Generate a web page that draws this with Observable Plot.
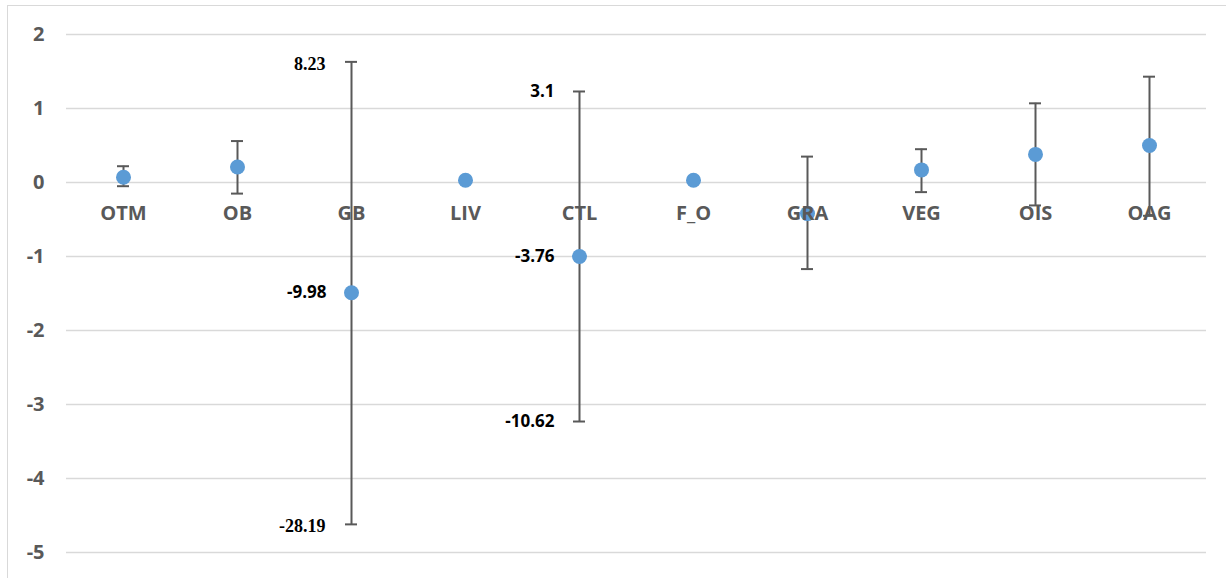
<!DOCTYPE html>
<html>
<head>
<meta charset="utf-8">
<script src="https://cdn.jsdelivr.net/npm/d3@7"></script>
<script src="https://cdn.jsdelivr.net/npm/@observablehq/plot@0.6"></script>
<style>
  html, body { margin: 0; padding: 0; background: #fff; overflow: hidden; }
  #wrap { position: relative; width: 1226px; height: 578px; }
  #border { position: absolute; left: 7px; top: 5px; right: -3px; bottom: -3px; border: 1.5px solid #d9d9d9; pointer-events: none; }
  .yax text { font-weight: 700; }
</style>
</head>
<body>
<div id="wrap"><div id="chart"></div><div id="border"></div></div>
<script>
const categories = ["OTM", "OB", "GB", "LIV", "CTL", "F_O", "GRA", "VEG", "OIS", "OAG"];
const means = [0.07, 0.21, -1.49, 0.03, -1.0, 0.03, -0.42, 0.17, 0.38, 0.5];
const upper = [0.22, 0.56, 1.63, null, 1.23, null, 0.35, 0.45, 1.07, 1.43];
const lower = [-0.05, -0.15, -4.62, null, -3.23, null, -1.17, -0.13, -0.31, -0.45];
const yTicks = [-5, -4, -3, -2, -1, 0, 1, 2];

// value annotations: category, which point of the bar, text
const annCategory = ["GB", "GB", "GB", "CTL", "CTL", "CTL"];
const annWhere = ["upper", "mean", "lower", "upper", "mean", "lower"];
const annText = ["8.23", "-9.98", "-28.19", "3.1", "-3.76", "-10.62"];
const annSerif = [true, false, true, false, false, false];

const rows = categories.map((c, i) => ({cat: c, mean: means[i], upper: upper[i], lower: lower[i]}));
const bars = rows.filter(d => d.upper != null && d.lower != null);
const ann = annCategory.map((c, i) => {
  const r = rows.find(d => d.cat === c);
  return {cat: c, y: r[annWhere[i]], text: annText[i], serif: annSerif[i]};
});

const textGray = "#595959";
const sans = "'Open Sans', sans-serif";
const chart = Plot.plot({
  width: 1226,
  height: 578,
  marginLeft: 66,
  marginRight: 20,
  marginTop: 34,
  marginBottom: 26,
  x: {domain: categories, padding: 0, axis: null},
  y: {domain: [-5, 2], axis: null},
  style: {background: "transparent"},
  marks: [
    Plot.gridY(yTicks, {stroke: "#d9d9d9", strokeOpacity: 1, strokeWidth: 1.5}),
    Plot.axisY(yTicks, {tickSize: 0, tickPadding: 22, tickFormat: d => String(d), fontSize: 20, fontWeight: "bold", fill: textGray, fontFamily: sans, label: null, className: "yax"}),
    Plot.ruleX(bars, {x: "cat", y1: "lower", y2: "upper", stroke: "#595959", strokeWidth: 2}),
    Plot.tickY(bars, {x: "cat", y: "upper", stroke: "#595959", strokeWidth: 2, insetLeft: 51, insetRight: 51}),
    Plot.tickY(bars, {x: "cat", y: "lower", stroke: "#595959", strokeWidth: 2, insetLeft: 51, insetRight: 51}),
    Plot.dot(rows, {x: "cat", y: "mean", r: 7.5, fill: "#5b9bd5", stroke: "none"}),
    Plot.text(categories, {x: d => d, y: () => 0, dy: 31, fontSize: 20, fontWeight: "bold", fill: textGray, fontFamily: sans}),
    Plot.text(ann.filter(d => d.serif), {x: "cat", y: "y", text: "text", textAnchor: "end", dx: -26, dy: 2, fontSize: 18, fontWeight: "bold", fill: "#000", fontFamily: "'Liberation Serif', 'Times New Roman', serif"}),
    Plot.text(ann.filter(d => !d.serif), {x: "cat", y: "y", text: "text", textAnchor: "end", dx: -25, dy: 0, fontSize: 17, fontWeight: "bold", fill: "#000", fontFamily: sans})
  ]
});
document.getElementById("chart").appendChild(chart);
</script>
</body>
</html>
